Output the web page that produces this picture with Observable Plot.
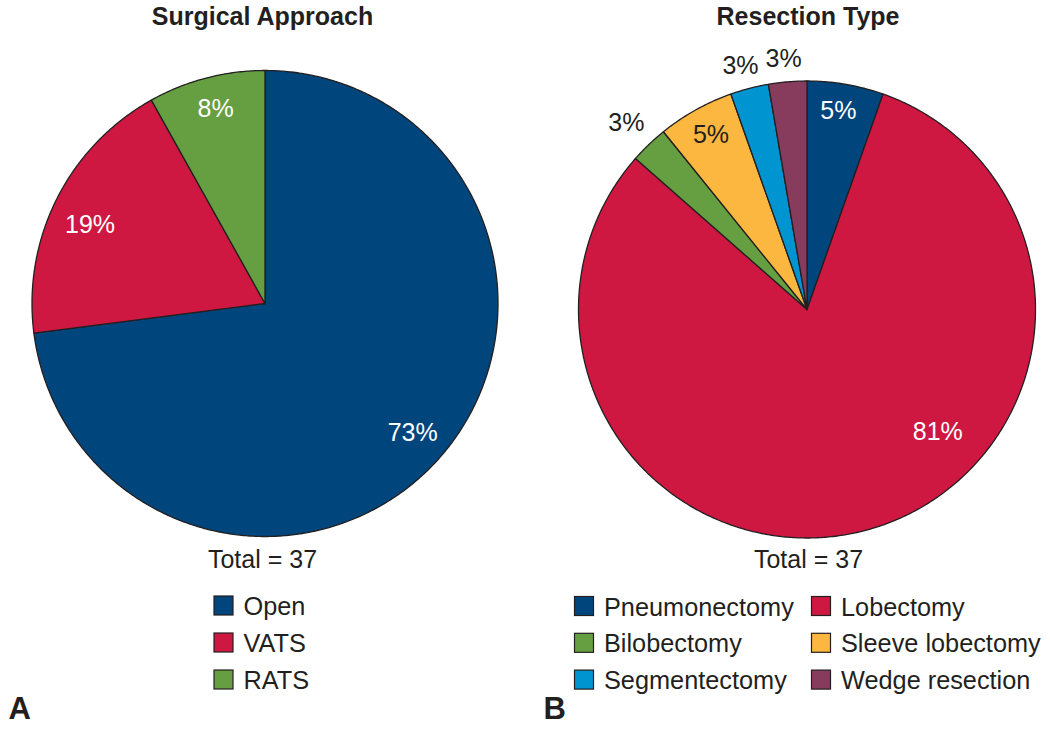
<!DOCTYPE html>
<html>
<head>
<meta charset="utf-8">
<script src="https://cdn.jsdelivr.net/npm/d3@7"></script>
<script src="https://cdn.jsdelivr.net/npm/@observablehq/plot@0.6"></script>
<style>
  html, body { margin: 0; padding: 0; background: #fff; }
  #chart svg { display: block; }
</style>
</head>
<body>
<div id="chart"></div>
<script>
// ---------- Data ----------
const approachTitle = "Surgical Approach";
const approachCats = ["Open", "VATS", "RATS"];
const approachCounts = [27, 7, 3];
const approachPct = ["73%", "19%", "8%"];

const resectionTitle = "Resection Type";
const resectionCats = ["Pneumonectomy", "Lobectomy", "Bilobectomy", "Sleeve lobectomy", "Segmentectomy", "Wedge resection"];
const resectionCounts = [2, 30, 1, 2, 1, 1];
const resectionPct = ["5%", "81%", "3%", "5%", "3%", "3%"];

const totalLabel = "Total = 37";
const panelLetters = ["A", "B"];

// ---------- Styles ----------
const approachColors = ["#00457c", "#ce1841", "#669e42"];
const resectionColors = ["#00457c", "#ce1841", "#669e42", "#fbb73f", "#0094d1", "#873b5d"];
const ink = "#231f20";
const font = "'Liberation Sans', Arial, Helvetica, sans-serif";

// ---------- Layout (pixel-unit scale space) ----------
const pieA = {cx: 264.5, cy: 303, r: 233};
const pieB = {cx: 806.5, cy: 309, r: 228.5};
// label placement: [angle clockwise from 12 o'clock (deg), radius fraction]
const approachLabelPos = [[131, 0.84], [294.5, 0.825], [345.8, 0.865]];
const approachLabelInk = ["#fff", "#fff", "#fff"];
const resectionLabelPos = [[8.9, 0.885], [132.8, 0.78], [316.1, 1.14], [331.3, 0.875], [344.8, 1.11], [354.7, 1.105]];
const resectionLabelInk = ["#fff", "#fff", ink, ink, ink, ink];

function slices(cats, counts, pie) {
  const tot = d3.sum(counts);
  const pts = [];
  let a0 = 0;
  cats.forEach((c, i) => {
    const a1 = a0 + counts[i] / tot * 360;
    pts.push({cat: c, x: pie.cx, y: pie.cy});
    const n = Math.max(2, Math.ceil((a1 - a0) / 0.5));
    for (let k = 0; k <= n; k++) {
      const a = (a0 + (a1 - a0) * k / n) * Math.PI / 180;
      pts.push({cat: c, x: pie.cx + pie.r * Math.sin(a), y: pie.cy - pie.r * Math.cos(a)});
    }
    a0 = a1;
  });
  return pts;
}
function labels(pcts, pos, inks, pie) {
  return pcts.map((t, i) => {
    const a = pos[i][0] * Math.PI / 180, f = pos[i][1];
    return {text: t, x: pie.cx + f * pie.r * Math.sin(a), y: pie.cy - f * pie.r * Math.cos(a) + 1, ink: inks[i]};
  });
}

const sliceData = [...slices(approachCats, approachCounts, pieA), ...slices(resectionCats, resectionCounts, pieB)];
const labelData = [...labels(approachPct, approachLabelPos, approachLabelInk, pieA),
                   ...labels(resectionPct, resectionLabelPos, resectionLabelInk, pieB)];

// legends
const sq = 19;
const legendA = approachCats.map((c, i) => ({cat: c, x: 214, y: 605.5 + i * 37}));
const legendB = resectionCats.map((c, i) => ({cat: c, x: i % 2 === 0 ? 574.5 : 811.5, y: 606 + Math.floor(i / 2) * 36.8}));
const legendData = [...legendA, ...legendB];

const titles = [
  {text: approachTitle, x: pieA.cx - 2.5, y: 16.7},
  {text: resectionTitle, x: pieB.cx + 1, y: 16.7}
];
const totals = [
  {text: totalLabel, x: 262, y: 559.5},
  {text: totalLabel, x: 808, y: 559.5}
];
const letters = [
  {text: panelLetters[0], x: 8, y: 708.5},
  {text: panelLetters[1], x: 543, y: 708.5}
];

const chart = Plot.plot({
  width: 1050,
  height: 730,
  margin: 0,
  style: {background: "#fff", fontFamily: font},
  x: {domain: [0, 1050], range: [0, 1050], axis: null},
  y: {domain: [0, 730], range: [0, 730], axis: null},
  color: {type: "ordinal", domain: [...approachCats, ...resectionCats], range: [...approachColors, ...resectionColors]},
  marks: [
    Plot.line(sliceData, {x: "x", y: "y", z: "cat", fill: "cat", stroke: ink, strokeWidth: 1.3, curve: "linear-closed", strokeLinejoin: "round"}),
    Plot.text(labelData, {x: "x", y: "y", text: "text", fill: "ink", fontSize: 25, fontFamily: font}),
    Plot.text(titles, {x: "x", y: "y", text: "text", fill: ink, fontSize: 25, fontWeight: "bold", fontFamily: font}),
    Plot.text(totals, {x: "x", y: "y", text: "text", fill: ink, fontSize: 25, fontFamily: font}),
    Plot.rect(legendData, {x1: "x", x2: d => d.x + sq, y1: d => d.y - sq / 2, y2: d => d.y + sq / 2, fill: "cat", stroke: ink, strokeWidth: 1.2, inset: 0}),
    Plot.text(legendData, {x: d => d.x + sq + 10, y: d => d.y + 1, text: "cat", textAnchor: "start", fill: ink, fontSize: 25.3, fontFamily: font}),
    Plot.text(letters, {x: "x", y: "y", text: "text", textAnchor: "start", fill: ink, fontSize: 31, fontWeight: "bold", fontFamily: font})
  ]
});
document.getElementById("chart").appendChild(chart);
</script>
</body>
</html>
